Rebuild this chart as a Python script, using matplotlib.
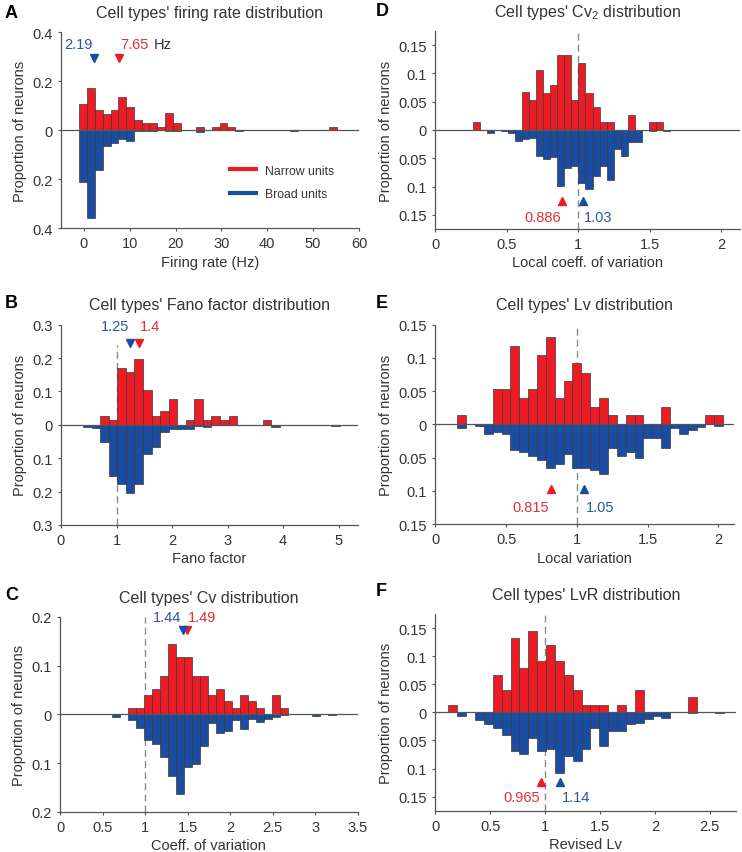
import matplotlib
matplotlib.use('Agg')
import matplotlib.pyplot as plt
import numpy as np
from matplotlib.lines import Line2D
from matplotlib.ticker import FuncFormatter

# ---- data (proportion of neurons per bin) ----
# A: firing rate (Hz)
fr_bin_start, fr_bin_width = -1.0, 1.7
fr_narrow = [0.107, 0.172, 0.081, 0.067, 0.081, 0.134, 0.094, 0.041, 0.027, 0.027, 0.014, 0.068, 0.027, 0, 0,
             0.014, 0, 0.014, 0.027, 0.014, 0, 0, 0, 0, 0, 0, 0, 0, 0, 0, 0, 0, 0.014, 0, 0]
fr_broad = [0.214, 0.359, 0.164, 0.066, 0.055, 0.038, 0.046, 0.004, 0.003, 0.003, 0.001, 0.003, 0.002, 0, 0,
            0.008, 0.001, 0.001, 0.001, 0.001, 0.002, 0, 0, 0, 0, 0, 0, 0.002, 0, 0, 0, 0, 0, 0, 0]
fr_medians = [7.65, 2.19]

# B: Fano factor
fano_bin_start, fano_bin_width = 0.40, 0.154
fano_narrow = [0, 0, 0.025, 0.014, 0.169, 0.158, 0.196, 0.105, 0.025, 0.040, 0.078, 0, 0.013, 0.078, 0.013,
               0.025, 0.013, 0.025, 0, 0, 0, 0.013, 0, 0, 0, 0, 0, 0, 0, 0, 0, 0]
fano_broad = [0.008, 0.010, 0.050, 0.152, 0.176, 0.204, 0.176, 0.087, 0.065, 0.022, 0.014, 0.012, 0.012, 0.004,
              0.008, 0, 0, 0, 0, 0, 0, 0, 0.007, 0, 0, 0, 0, 0, 0, 0.003, 0, 0]
fano_medians = [1.4, 1.25]

# C: coefficient of variation
cv_bin_start, cv_bin_width = 0.616, 0.094
cv_narrow = [0, 0, 0.013, 0.013, 0.040, 0.053, 0.079, 0.145, 0.118, 0.118, 0.079, 0.079, 0.040, 0.053, 0.027,
             0.013, 0.040, 0.027, 0.013, 0, 0.040, 0.013, 0, 0, 0, 0, 0, 0, 0]
cv_broad = [0.006, 0, 0.012, 0.027, 0.053, 0.061, 0.087, 0.126, 0.164, 0.107, 0.102, 0.065, 0.018, 0.037, 0.034,
            0.012, 0.030, 0.010, 0.015, 0.010, 0.006, 0.002, 0, 0, 0, 0.003, 0, 0.001, 0]
cv_medians = [1.49, 1.44]

# D: Cv2
cv2_bin_start, cv2_bin_width = 0.261, 0.0493
cv2_narrow = [0.0135, 0, 0, 0, 0, 0, 0, 0.067, 0.053, 0.106, 0.066, 0.080, 0.133, 0.133, 0.053, 0.119, 0.066,
              0.040, 0.0135, 0.0135, 0, 0, 0.027, 0, 0, 0.0135, 0.0135, 0]
cv2_broad = [0, 0, 0.006, 0, 0.0024, 0.005, 0.019, 0.016, 0.014, 0.046, 0.052, 0.048, 0.099, 0.068, 0.064, 0.094,
             0.105, 0.082, 0.064, 0.089, 0.034, 0.046, 0.021, 0.021, 0, 0.0024, 0, 0.001]
cv2_medians = [0.886, 1.03]

# E: Lv
lv_bin_start, lv_bin_width = 0.155, 0.0626
lv_narrow = [0.0135, 0, 0, 0, 0.053, 0.053, 0.118, 0.040, 0.053, 0.105, 0.131, 0.040, 0.066, 0.092, 0.078, 0.026,
             0.040, 0.0135, 0, 0.0135, 0.0135, 0, 0, 0.026, 0, 0, 0, 0, 0.0135, 0.0135]
lv_broad = [0.005, 0, 0.003, 0.015, 0.012, 0.014, 0.039, 0.042, 0.047, 0.054, 0.066, 0.060, 0.045, 0.066, 0.066,
            0.069, 0.075, 0.036, 0.047, 0.042, 0.051, 0.020, 0.020, 0.036, 0.005, 0.015, 0.009, 0.004, 0, 0.003]
lv_medians = [0.815, 1.05]

# F: LvR
lvr_bin_start, lvr_bin_width = 0.119, 0.0809
lvr_narrow = [0.0136, 0, 0, 0, 0, 0.066, 0.040, 0.132, 0.079, 0.144, 0.092, 0.119, 0.092, 0.066, 0.040, 0.0136,
              0.0136, 0.0136, 0, 0.0136, 0, 0.040, 0, 0, 0, 0, 0, 0.027, 0, 0, 0]
lvr_broad = [0, 0.0065, 0, 0.013, 0.021, 0.028, 0.040, 0.069, 0.074, 0.046, 0.069, 0.066, 0.108, 0.078, 0.087,
             0.065, 0.028, 0.059, 0.033, 0.034, 0.021, 0.019, 0.012, 0.0065, 0.0095, 0, 0, 0.002, 0, 0, 0.002]
lvr_medians = [0.965, 1.14]

RED = (237 / 255, 28 / 255, 36 / 255)
BLUE = (26 / 255, 77 / 255, 162 / 255)
TXT_RED = (228 / 255, 48 / 255, 52 / 255)
TXT_BLUE = (42 / 255, 88 / 255, 165 / 255)
DARK = '#333333'


def init_plt_env():
    plt.rcParams['font.family'] = ['Liberation Sans', 'DejaVu Sans']
    plt.rcParams['mathtext.default'] = 'regular'
    plt.rcParams['axes.unicode_minus'] = False
    plt.rcParams['text.color'] = DARK
    plt.rcParams['axes.labelcolor'] = DARK
    plt.rcParams['xtick.color'] = '#555555'
    plt.rcParams['ytick.color'] = '#555555'
    plt.rcParams['xtick.labelcolor'] = DARK
    plt.rcParams['ytick.labelcolor'] = DARK


def abs_fmt(v, pos):
    if abs(v) < 1e-9:
        return '0'
    return f'{abs(v):g}'


def hist_draw(ax, bin_start, bin_width, narrow, broad, title, x_label, xlim, ylim, xticks, yticks, dash_top=None):
    left = bin_start + bin_width * np.arange(len(narrow))
    ax.bar(left, narrow, width=bin_width, align='edge', color=RED, edgecolor='#3a3a3a', linewidth=0.5, zorder=2)
    ax.bar(left, -np.array(broad), width=bin_width, align='edge', color=BLUE, edgecolor='#3a3a3a', linewidth=0.5,
           zorder=2)
    ax.axhline(0, color='#555555', lw=0.9, zorder=3)
    if dash_top is not None:
        ax.vlines(1, ylim[0], dash_top, colors='#8a8a8a', linestyles=(0, (5, 3)), lw=1, zorder=1)

    ax.set_xlim(xlim)
    ax.set_ylim(ylim)
    ax.set_xticks(xticks)
    ax.set_yticks(yticks)
    ax.xaxis.set_major_formatter(FuncFormatter(abs_fmt))
    ax.yaxis.set_major_formatter(FuncFormatter(abs_fmt))
    ax.tick_params(labelsize=10.5, length=2.5, width=0.8)
    for side in ['top', 'right']:
        ax.spines[side].set_visible(False)
    for side in ['left', 'bottom']:
        ax.spines[side].set_color('#555555')
        ax.spines[side].set_linewidth(0.9)
    ax.set_title(title, fontsize=11.5, pad=11)
    ax.set_xlabel(x_label, fontsize=10.5, labelpad=3)
    ax.set_ylabel('Proportion of neurons', fontsize=10.5, labelpad=4)


def median_marks(ax, medians, mark_y, text_y, up):
    narrow_med, broad_med = medians
    marker = '^' if up else 'v'
    ax.plot(narrow_med, mark_y, marker=marker, color=RED, ms=5.5, clip_on=False, zorder=4)
    ax.plot(broad_med, mark_y, marker=marker, color=BLUE, ms=5.5, clip_on=False, zorder=4)
    lo_first = narrow_med < broad_med
    ax.annotate(f'{narrow_med:g}', (narrow_med, text_y), xytext=(-1 if lo_first else 1, 0),
                textcoords='offset points', ha='right' if lo_first else 'left', va='center',
                color=TXT_RED, fontsize=10.5)
    ax.annotate(f'{broad_med:g}', (broad_med, text_y), xytext=(1 if lo_first else -1, 0),
                textcoords='offset points', ha='left' if lo_first else 'right', va='center',
                color=TXT_BLUE, fontsize=10.5)


def draw_figure():
    init_plt_env()
    fig = plt.figure(figsize=(7.42, 8.53), dpi=100)

    ax_a = fig.add_axes([0.0822, 0.7315, 0.4016, 0.2298])
    ax_d = fig.add_axes([0.5867, 0.7304, 0.4106, 0.2321])
    ax_b = fig.add_axes([0.0822, 0.3834, 0.4003, 0.2348])
    ax_e = fig.add_axes([0.5867, 0.3845, 0.4026, 0.2336])
    ax_c = fig.add_axes([0.0809, 0.0469, 0.4012, 0.2286])
    ax_f = fig.add_axes([0.5867, 0.0484, 0.4053, 0.2306])

    ticks_15 = [-0.15, -0.1, -0.05, 0, 0.05, 0.1, 0.15]

    hist_draw(ax_a, fr_bin_start, fr_bin_width, fr_narrow, fr_broad, "Cell types' firing rate distribution",
              'Firing rate (Hz)', (-5, 60), (-0.4, 0.4), np.arange(0, 61, 10), [-0.4, -0.2, 0, 0.2, 0.4])
    median_marks(ax_a, fr_medians, 0.295, 0.352, up=False)
    ax_a.text(15.2, 0.352, 'Hz', va='center', ha='left', fontsize=10.5, color=DARK)
    handles = [Line2D([0], [0], color=RED, lw=3), Line2D([0], [0], color=BLUE, lw=3)]
    ax_a.legend(handles, ['Narrow units', 'Broad units'], loc='lower left', bbox_to_anchor=(0.53, 0.085),
                frameon=False, fontsize=8.8, handlelength=2.15, labelspacing=0.95, handletextpad=0.75)

    hist_draw(ax_b, fano_bin_start, fano_bin_width, fano_narrow, fano_broad, "Cell types' Fano factor distribution",
              'Fano factor', (0, 5.35), (-0.3, 0.3), np.arange(0, 6, 1),
              [-0.3, -0.2, -0.1, 0, 0.1, 0.2, 0.3], dash_top=0.24)
    median_marks(ax_b, fano_medians, 0.245, 0.297, up=False)

    hist_draw(ax_c, cv_bin_start, cv_bin_width, cv_narrow, cv_broad, "Cell types' Cv distribution",
              'Coeff. of variation', (0, 3.5), (-0.2, 0.2), np.arange(0, 3.51, 0.5),
              [-0.2, -0.1, 0, 0.1, 0.2], dash_top=0.2)
    median_marks(ax_c, cv_medians, 0.173, 0.2, up=False)

    hist_draw(ax_d, cv2_bin_start, cv2_bin_width, cv2_narrow, cv2_broad, "Cell types' Cv$_2$ distribution",
              'Local coeff. of variation', (0, 2.13), (-0.175, 0.175), np.arange(0, 2.01, 0.5),
              ticks_15, dash_top=0.175)
    median_marks(ax_d, cv2_medians, -0.125, -0.153, up=True)

    hist_draw(ax_e, lv_bin_start, lv_bin_width, lv_narrow, lv_broad, "Cell types' Lv distribution",
              'Local variation', (0, 2.11), (-0.15, 0.15), np.arange(0, 2.01, 0.5), ticks_15, dash_top=0.15)
    median_marks(ax_e, lv_medians, -0.098, -0.124, up=True)

    hist_draw(ax_f, lvr_bin_start, lvr_bin_width, lvr_narrow, lvr_broad, "Cell types' LvR distribution",
              'Revised Lv', (0, 2.74), (-0.175, 0.175), np.arange(0, 2.51, 0.5), ticks_15, dash_top=0.175)
    median_marks(ax_f, lvr_medians, -0.124, -0.150, up=True)

    for label, x, y in [('A', 5, 13), ('D', 376, 11), ('B', 5, 304), ('E', 376, 304), ('C', 5, 595),
                        ('F', 376, 592)]:
        fig.text(x / 742, 1 - y / 853, label, fontsize=13, fontweight='bold', color='black', ha='left', va='center')

    fig.savefig('out.png', dpi=100)


if __name__ == '__main__':
    draw_figure()
